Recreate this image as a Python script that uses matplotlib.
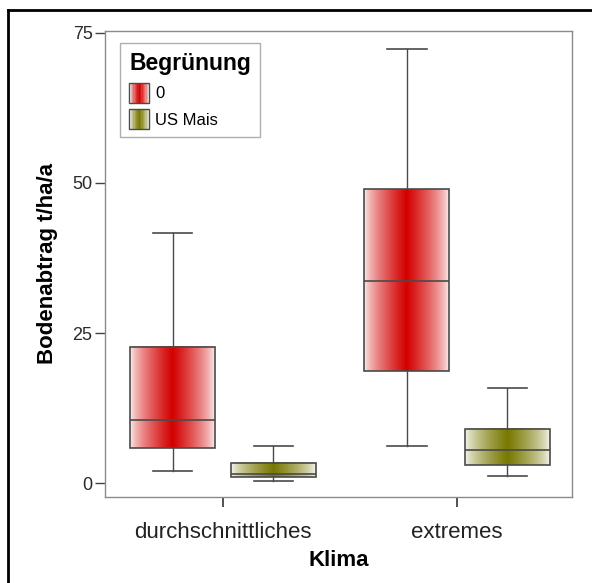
import numpy as np
import matplotlib
matplotlib.use("Agg")
import matplotlib.pyplot as plt
from matplotlib.lines import Line2D
from matplotlib.patches import Rectangle, Patch
from matplotlib.legend_handler import HandlerBase

plt.rcParams['font.family'] = ['Liberation Sans', 'DejaVu Sans']

# Data: box summaries (whisker low, Q1, median, Q3, whisker high) in t/ha/a
categories = ["durchschnittliches", "extremes"]
groups = ["0", "US Mais"]
whislo = {"0": [2.0, 6.2], "US Mais": [0.4, 1.2]}
q1 = {"0": [5.8, 18.7], "US Mais": [0.95, 3.1]}
median = {"0": [10.5, 33.7], "US Mais": [1.6, 5.6]}
q3 = {"0": [22.7, 49.0], "US Mais": [3.3, 9.1]}
whishi = {"0": [41.7, 72.3], "US Mais": [6.2, 15.9]}
yticks = [0, 25, 50, 75]

colors = {"0": (0.83, 0.0, 0.0), "US Mais": (0.47, 0.47, 0.0)}
offsets = {"0": -0.214, "US Mais": 0.214}
box_w = 0.363
cap_w = 0.167
edge = "#4a4a4a"


def gradient_row(rgb, n=101):
    t = np.abs(np.linspace(-1, 1, n))
    f = np.clip(1.0 - t, 0, 1) ** 0.7 * 0.94 + 0.06
    base = np.array(rgb)
    row = 1.0 - (1.0 - base)[None, :] * f[:, None]
    return row[None, :, :]


fig = plt.figure(figsize=(5.92, 5.83), dpi=100)
ax = fig.add_axes([105 / 592, 1 - 497 / 583, (572 - 105) / 592, (497 - 31) / 583])

for g in groups:
    stats = []
    pos = []
    for i, cat in enumerate(categories):
        stats.append(dict(whislo=whislo[g][i], q1=q1[g][i], med=median[g][i],
                          q3=q3[g][i], whishi=whishi[g][i], fliers=[]))
        pos.append(i + offsets[g])
    ax.bxp(stats, positions=pos, widths=box_w, capwidths=cap_w,
           showfliers=False, patch_artist=True,
           boxprops=dict(facecolor="none", edgecolor=edge, linewidth=1.2),
           medianprops=dict(color=edge, linewidth=1.2),
           whiskerprops=dict(color=edge, linewidth=1.0),
           capprops=dict(color=edge, linewidth=1.2), zorder=3)
    for i, p in enumerate(pos):
        ax.imshow(gradient_row(colors[g]), extent=(p - box_w / 2, p + box_w / 2, q1[g][i], q3[g][i]),
                  aspect="auto", interpolation="bilinear", zorder=2)

ax.set_xlim(-0.504, 1.491)
ax.set_ylim(-2.3, 75.3)
ax.set_xticks(range(len(categories)))
ax.set_xticklabels(categories, fontsize=16, color="#222222")
ax.set_yticks(yticks)
ax.set_yticklabels([str(v) for v in yticks], fontsize=13, color="#2a2a2a")
ax.tick_params(axis="x", length=7, width=1.2, color="#333333", pad=11)
ax.tick_params(axis="y", length=7, width=1.0, color="#444444", pad=2)
for s in ax.spines.values():
    s.set_color("#8a8a8a")
    s.set_linewidth(1.0)

ax.set_xlabel("Klima", fontsize=16, fontweight="bold", labelpad=5)
ax.set_ylabel("Bodenabtrag t/ha/a", fontsize=16, fontweight="bold", labelpad=10)


class GradientHandler(HandlerBase):
    """Square legend key filled with the same centre-dark gradient as the boxes."""

    def create_artists(self, legend, orig_handle, xdescent, ydescent, width, height, fontsize, trans):
        rgb = orig_handle.get_facecolor()[:3]
        row = gradient_row(rgb, n=15)[0]
        side = width
        y0 = -ydescent + height / 2 - side / 2
        arts = []
        n = len(row)
        for k in range(n):
            arts.append(Rectangle((-xdescent + side * k / n, y0), side / n + 0.3, side,
                                  facecolor=row[k], edgecolor="none", transform=trans))
        arts.append(Rectangle((-xdescent, y0), side, side, facecolor="none",
                              edgecolor=edge, linewidth=1.0, transform=trans))
        return arts


handles = [Patch(facecolor=colors[g], label=g) for g in groups]
leg = ax.legend(handles=handles, title="Begrünung", loc="upper left",
                bbox_to_anchor=(15 / 467, 1 - 12 / 466), fontsize=12,
                title_fontproperties=dict(size=16.5, weight="bold"),
                handler_map={Patch: GradientHandler()}, handlelength=1.2, handleheight=1.2,
                handletextpad=0.35, labelspacing=0.55, borderpad=0.55, fancybox=False,
                alignment="left", borderaxespad=0)
leg.get_frame().set_edgecolor("#9a9a9a")
leg.get_frame().set_linewidth(1.0)

# outer frame (top and left edges)
fig.add_artist(Line2D([8 / 592, 8 / 592], [0, 1 - 10 / 583], transform=fig.transFigure, color="black", linewidth=2))
fig.add_artist(Line2D([8 / 592, 1], [1 - 10 / 583, 1 - 10 / 583], transform=fig.transFigure, color="black", linewidth=2))

fig.savefig("out.png", dpi=100)
